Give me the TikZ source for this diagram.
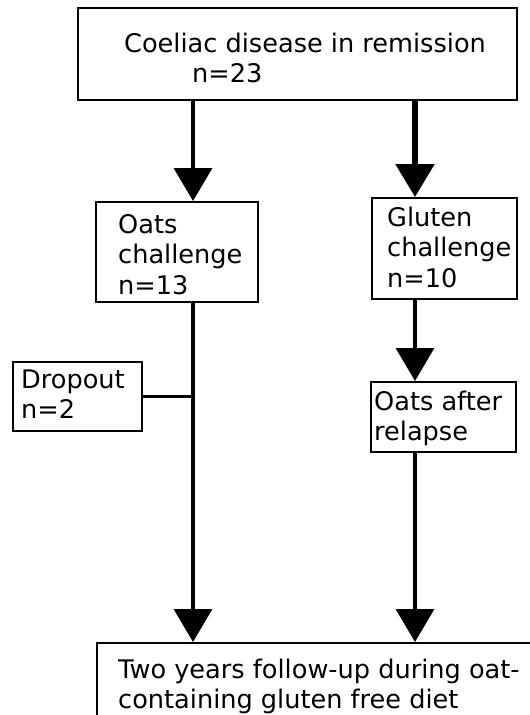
\documentclass[tikz,border=0pt]{standalone}
\usepackage{fontspec}
\setmainfont{DejaVu Sans}
\usetikzlibrary{arrows.meta}
\begin{document}
\begin{tikzpicture}[x=1pt,y=-1pt,
  box/.style={draw,line width=2pt,inner sep=0pt,rectangle},
  lbl/.style={anchor=base west,inner sep=0pt,align=left,font=\fontsize{25.6}{30.5}\selectfont},
  flow/.style={line width=3.5pt,-{Triangle[width=38pt,length=33pt]}}]
\useasboundingbox (0,0) rectangle (530,715);
\clip (0,0) rectangle (530,715);
% boxes
\node[box,minimum width=439pt,minimum height=92pt] (top) at (297.5,54) {};
\node[box,minimum width=162pt,minimum height=100pt] (oats) at (177,252) {};
\node[box,minimum width=145pt,minimum height=101pt] (gluten) at (444.5,248.5) {};
\node[box,minimum width=129pt,minimum height=69pt] (dropout) at (77.5,396.5) {};
\node[box,minimum width=145pt,minimum height=70pt] (relapse) at (443.5,417) {};
\node[box,minimum width=448pt,minimum height=140pt] (bottom) at (321,713) {};
% connector columns
\coordinate (xl) at (193,0);
\coordinate (xr) at (415,0);
% connectors
\draw[flow] (top.south -| xl) -- (oats.north -| xl);
\draw[flow,line width=5.5pt] (top.south -| xr) -- (gluten.north -| xr);
\draw[flow] (oats.south -| xl) -- (bottom.north -| xl);
\draw[line width=3.5pt] (dropout.east) -- (dropout.east -| xl);
\draw[flow] (gluten.south -| xr) -- (relapse.north -| xr);
\draw[flow] (relapse.south -| xr) -- (bottom.north -| xr);
% labels (base anchor = baseline of the last line)
\node[lbl] (t1) at (124,82.5) {Coeliac disease in remission\\\hspace*{68pt}n=23};
\node[lbl] (t2) at (118,294) {Oats\\challenge\\n=13};
\node[lbl] (t3) at (387,287) {Gluten\\challenge\\n=10};
\node[lbl] (t4) at (21,418.5) {Dropout\\n=2};
\node[lbl] (t5) at (374,440.5) {Oats after\\relapse};
\node[lbl] (t6) at (118,708.5) {Two years follow-up during oat-\\containing gluten free diet};
\end{tikzpicture}
\end{document}
